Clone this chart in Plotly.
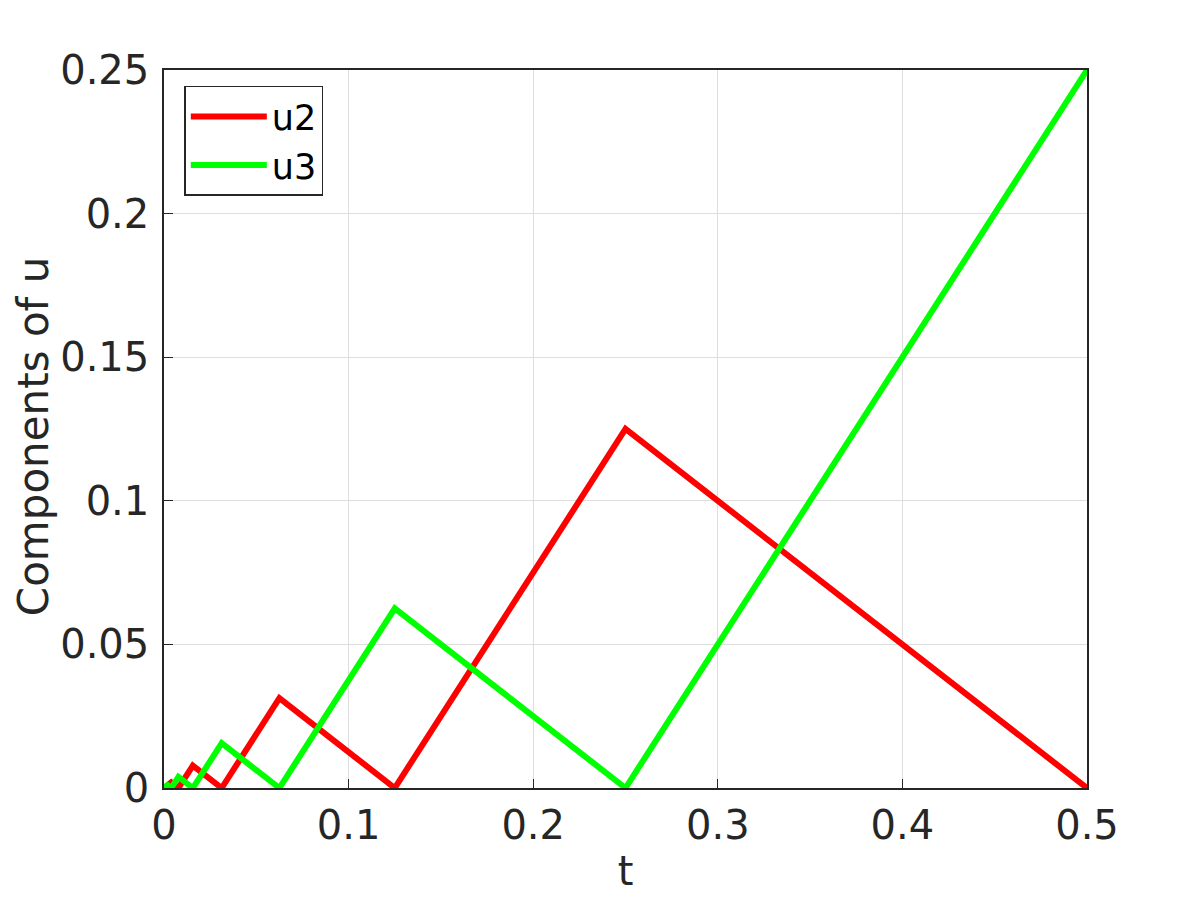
import plotly.graph_objects as go

# breakpoints of the two components
t_u2 = [0, 0.00390625, 0.0078125, 0.015625, 0.03125, 0.0625, 0.125, 0.25, 0.5]
u2 = [0, 0.00195, 0, 0.0078, 0, 0.03125, 0, 0.125, 0]

t_u3 = [0, 0.00195, 0.00390625, 0.0078125, 0.015625, 0.03125, 0.0625, 0.125, 0.25, 0.5]
u3 = [0, 0.001, 0, 0.0039, 0, 0.0156, 0, 0.0625, 0, 0.25]

xticks = [0, 0.1, 0.2, 0.3, 0.4, 0.5]
xtick_text = ["0", "0.1", "0.2", "0.3", "0.4", "0.5"]
yticks = [0, 0.05, 0.1, 0.15, 0.2, 0.25]
ytick_text = ["0", "0.05", "0.1", "0.15", "0.2", "0.25"]

fig = go.Figure()
fig.add_trace(go.Scatter(x=t_u2, y=u2, mode="lines", name="u2",
                         line=dict(color="#ff0000", width=6)))
fig.add_trace(go.Scatter(x=t_u3, y=u3, mode="lines", name="u3",
                         line=dict(color="#00ff00", width=6)))

axis_common = dict(
    showgrid=True, gridcolor="#dedede", gridwidth=1,
    showline=True, linecolor="#262626", linewidth=1.5, mirror=True,
    ticks="inside", ticklen=9, tickcolor="#262626",
    zeroline=False, tickfont=dict(size=40, color="#262626"),
    automargin=False,
)

fig.update_xaxes(range=[0, 0.5], tickvals=xticks, ticktext=xtick_text,
                 ticklabelstandoff=1,
                 title=dict(text="t", font=dict(size=40, color="#262626"), standoff=10),
                 **axis_common)
fig.update_yaxes(range=[0, 0.25], tickvals=yticks, ticktext=ytick_text,
                 ticklabelstandoff=5, **axis_common)

# y title as a rotated annotation so it can sit closer to the page edge
fig.add_annotation(text="Components of u", xref="paper", yref="paper",
                   x=0, y=0.49, xanchor="center", yanchor="middle",
                   xshift=-131, textangle=-90, showarrow=False,
                   borderpad=0, font=dict(size=42, color="#262626"))

fig.update_layout(
    width=1200, height=900,
    margin=dict(l=156, r=121, t=62, b=120),
    paper_bgcolor="white", plot_bgcolor="white",
    font=dict(family="DejaVu Sans", color="#262626"),
    showlegend=True,
    legend=dict(x=0.022, y=0.978, xanchor="left", yanchor="top",
                bgcolor="white", bordercolor="#262626", borderwidth=1.5,
                font=dict(size=35, color="#000000"), itemwidth=76,
                tracegroupgap=0),
)

fig.write_html("out.html")
